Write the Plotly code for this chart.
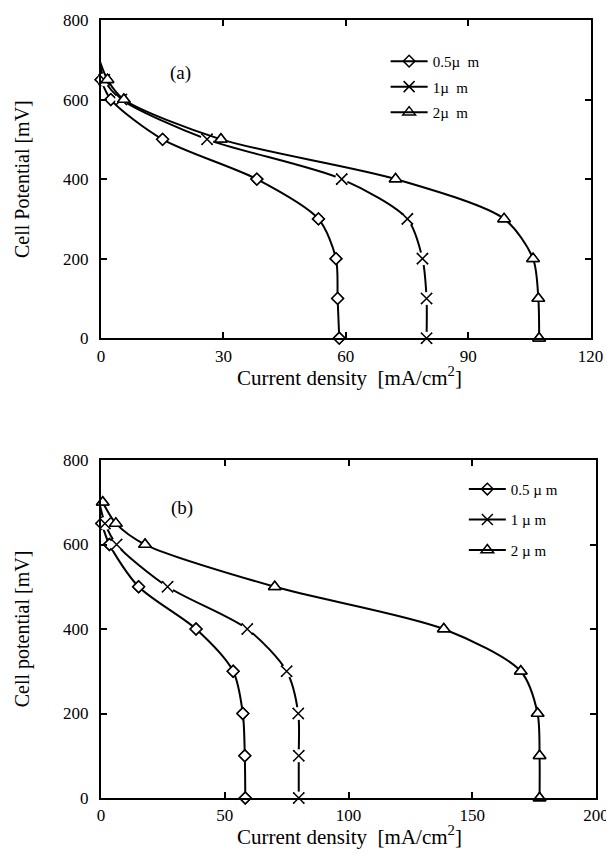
import plotly.graph_objects as go

# ---------------- data ----------------
# Panel (a)
a_v_05 = [650, 600, 500, 400, 300, 200, 100, 0]
a_i_05 = [0.0, 2.4, 15.1, 38.2, 53.3, 57.6, 58.0, 58.4]
a_v_1 = [700, 650, 600, 500, 400, 300, 200, 100, 0]
a_i_1 = [-0.4, 0.8, 5.0, 26.0, 59.0, 75.1, 78.8, 79.8, 79.8]
a_v_2 = [700, 650, 600, 500, 400, 300, 200, 100, 0]
a_i_2 = [-0.4, 1.6, 5.6, 29.4, 72.2, 98.8, 105.9, 107.2, 107.4]
a_names = ["0.5\u00b5\u00a0\u00a0m", "1\u00b5\u00a0\u00a0m", "2\u00b5\u00a0\u00a0m"]

# Panel (b)
b_v_05 = [650, 600, 500, 400, 300, 200, 100, 0]
b_i_05 = [0.3, 3.4, 15.2, 38.4, 53.4, 57.3, 58.1, 58.3]
b_v_1 = [700, 650, 600, 500, 400, 300, 200, 100, 0]
b_i_1 = [-0.7, 1.6, 6.3, 26.9, 59.1, 75.0, 79.7, 79.9, 79.9]
b_v_2 = [700, 650, 600, 500, 400, 300, 200, 100, 0]
b_i_2 = [0.7, 6.0, 17.8, 70.2, 138.5, 169.6, 176.4, 177.2, 177.2]
b_names = ["0.5\u00a0\u00b5\u00a0m", "1\u00a0\u00b5\u00a0m", "2\u00a0\u00b5\u00a0m"]

a_xticks = [0, 30, 60, 90, 120]
b_xticks = [0, 50, 100, 150, 200]
yticks = [0, 200, 400, 600, 800]

x_title_text = "Current density\u00a0 [mA/cm<sup>2</sup>]"
a_y_title = "Cell Potential [mV]"
b_y_title = "Cell potential [mV]"

FONT = "Liberation Serif"
fig = go.Figure()

symbols = ["diamond-open", "x-thin", "triangle-up-open"]
sizes = [9, 11, 11]


def add_series(xs, ys, name, sym, size, xa, ya, legend, group):
    fig.add_trace(go.Scatter(
        x=xs, y=ys, name=name, mode="lines+markers",
        xaxis=xa, yaxis=ya, legend=legend, legendgroup=group,
        line=dict(color="black", width=2, shape="spline", smoothing=0.8),
        marker=dict(symbol=sym, size=size, color="black",
                    line=dict(color="black", width=1.5)),
        cliponaxis=False,
    ))
    if sym in ("diamond-open", "triangle-up-open"):
        base = sym.replace("-open", "")
        fig.add_trace(go.Scatter(
            x=xs, y=ys, mode="markers", showlegend=False,
            xaxis=xa, yaxis=ya, hoverinfo="skip", cliponaxis=False,
            marker=dict(symbol=base, size=size, color="white",
                        line=dict(color="black", width=1.5)),
        ))
    else:
        fig.add_trace(go.Scatter(
            x=xs, y=ys, mode="markers", showlegend=False,
            xaxis=xa, yaxis=ya, hoverinfo="skip", cliponaxis=False,
            marker=dict(symbol="circle", size=size + 2, color="white",
                        line=dict(width=0)),
        ))
        fig.add_trace(go.Scatter(
            x=xs, y=ys, mode="markers", showlegend=False,
            xaxis=xa, yaxis=ya, hoverinfo="skip", cliponaxis=False,
            marker=dict(symbol=sym, size=size, color="black",
                        line=dict(color="black", width=1.5)),
        ))


a_data = [(a_i_05, a_v_05), (a_i_1, a_v_1), (a_i_2, a_v_2)]
b_data = [(b_i_05, b_v_05), (b_i_1, b_v_1), (b_i_2, b_v_2)]
for k, (xs, ys) in enumerate(a_data):
    add_series(xs, ys, a_names[k], symbols[k], sizes[k], "x", "y", "legend", "a%d" % k)
for k, (xs, ys) in enumerate(b_data):
    add_series(xs, ys, b_names[k], symbols[k], sizes[k], "x2", "y2", "legend2", "b%d" % k)

axis_common = dict(
    showline=True, linecolor="black", linewidth=2, mirror="ticks",
    ticks="inside", ticklen=6, tickwidth=1.5, tickcolor="black",
    showgrid=False, zeroline=False, automargin=False,
    tickfont=dict(family=FONT, size=17, color="black"),
)
TS = 20

fig.update_layout(
    width=606, height=849,
    margin=dict(l=93, r=18, t=12, b=59),
    paper_bgcolor="white", plot_bgcolor="white",
    font=dict(family=FONT, color="black"),
    xaxis=dict(axis_common, domain=[0, 0.989], range=[0, 120], tickvals=a_xticks,
               anchor="y", ticklabelstandoff=1),
    yaxis=dict(axis_common, domain=[0.591, 1.0], range=[0, 800], tickvals=yticks,
               anchor="x", ticklabelstandoff=7,
               title=dict(text=a_y_title, font=dict(family=FONT, size=TS), standoff=28)),
    xaxis2=dict(axis_common, domain=[0, 1.0], range=[0, 200], tickvals=b_xticks,
                anchor="y2", ticklabelstandoff=1),
    yaxis2=dict(axis_common, domain=[0, 0.4344], range=[0, 800], tickvals=yticks,
                anchor="x2", ticklabelstandoff=7,
                title=dict(text=b_y_title, font=dict(family=FONT, size=TS), standoff=28)),
    legend=dict(x=0.575, y=0.968, xanchor="left", yanchor="top",
                bgcolor="rgba(0,0,0,0)", borderwidth=0, itemwidth=37,
                font=dict(family=FONT, size=15), tracegroupgap=3,
                traceorder="grouped"),
    legend2=dict(x=0.733, y=0.418, xanchor="left", yanchor="top",
                 bgcolor="rgba(0,0,0,0)", borderwidth=0, itemwidth=37,
                 font=dict(family=FONT, size=15), tracegroupgap=8,
                 traceorder="grouped"),
    annotations=[
        dict(text="(a)", x=0.16, y=0.932, xref="paper", yref="paper",
             xanchor="center", yanchor="middle",
             showarrow=False, font=dict(family=FONT, size=19)),
        dict(text="(b)", x=0.164, y=0.373, xref="paper", yref="paper",
             xanchor="center", yanchor="middle",
             showarrow=False, font=dict(family=FONT, size=19)),
        dict(text=x_title_text, x=0.503, y=0.5424, xref="paper", yref="paper",
             xanchor="center", yanchor="middle",
             showarrow=False, font=dict(family=FONT, size=21)),
        dict(text=x_title_text, x=0.503, y=-0.0476, xref="paper", yref="paper",
             xanchor="center", yanchor="middle",
             showarrow=False, font=dict(family=FONT, size=21)),
    ],
)

fig.write_html("out.html")
